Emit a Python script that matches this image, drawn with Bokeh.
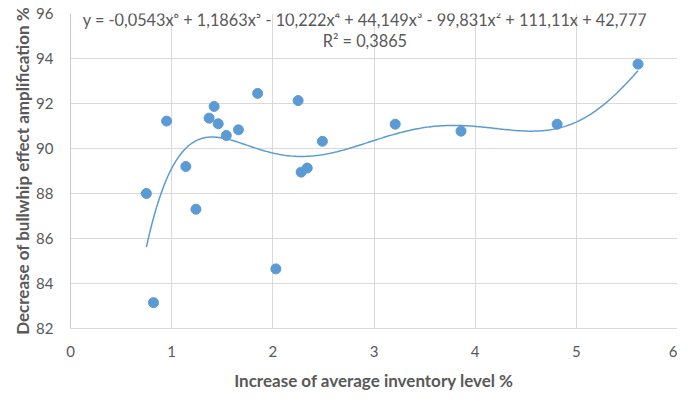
import numpy as np
from bokeh.plotting import figure
from bokeh.models import FixedTicker, Label, ColumnDataSource
from bokeh.embed import file_html
from bokeh.resources import INLINE

# Data
inventory_increase = [0.75, 0.82, 0.95, 1.14, 1.24, 1.37, 1.42, 1.46, 1.54, 1.66,
                      1.85, 2.03, 2.25, 2.28, 2.34, 2.49, 3.21, 3.86, 4.81, 5.61]
bullwhip_decrease = [88.0, 83.15, 91.22, 89.2, 87.3, 91.35, 91.87, 91.1, 90.58, 90.83,
                     92.45, 84.65, 92.13, 88.95, 89.13, 90.32, 91.08, 90.77, 91.08, 93.75]

# Trendline coefficients shown on the chart (6th order polynomial, highest power first)
trend_coefs = [-0.0543, 1.1863, -10.222, 44.149, -99.831, 111.11, 42.777]
equation_text = "y = -0,0543x\u2076 + 1,1863x\u2075 - 10,222x\u2074 + 44,149x\u00b3 - 99,831x\u00b2 + 111,11x + 42,777"
r2_text = "R\u00b2 = 0,3865"

x_ticks = [0, 1, 2, 3, 4, 5, 6]
y_ticks = [82, 84, 86, 88, 90, 92, 94, 96]
x_title = "Increase of average inventory level %"
y_title = "Decrease of bullwhip effect amplification %"

BLUE = "#5B9BD5"
GRID = "#D9D9D9"
TXT = "#595959"
FONT = "Lato"

p = figure(width=677, height=393, x_range=(0, 6), y_range=(82, 96),
           output_backend="svg", toolbar_location=None,
           min_border_left=70, min_border_right=0, min_border_top=13, min_border_bottom=61)
p.outline_line_color = None
p.background_fill_color = "white"

# trendline
tx = np.linspace(min(inventory_increase), max(inventory_increase), 300)
ty = np.polyval(trend_coefs, tx)
p.line(tx, ty, line_color=BLUE, line_width=1.5)

src = ColumnDataSource(dict(x=inventory_increase, y=bullwhip_decrease))
p.scatter("x", "y", source=src, size=10, fill_color=BLUE, line_color=BLUE)

# axes
p.xaxis.ticker = FixedTicker(ticks=x_ticks)
p.yaxis.ticker = FixedTicker(ticks=y_ticks)
for ax in (p.xaxis[0], p.yaxis[0]):
    ax.major_tick_line_color = None
    ax.minor_tick_line_color = None
    ax.major_tick_out = 0
    ax.major_tick_in = 0
    ax.major_label_text_font = FONT
    ax.major_label_text_font_size = "15px"
    ax.major_label_text_color = TXT
    ax.axis_label_text_font = FONT
    ax.axis_label_text_font_style = "bold"
    ax.axis_label_text_color = TXT
    ax.axis_label_text_font_size = "17px"
p.xaxis.axis_label = x_title
p.yaxis.axis_label = y_title
p.xaxis.axis_line_color = GRID
p.yaxis.axis_line_color = "#C5CCD8"
p.xaxis.major_label_standoff = 17
p.yaxis.major_label_standoff = 17
p.xaxis.axis_label_standoff = 10
p.yaxis.axis_label_standoff = 0

p.xgrid.grid_line_color = GRID
p.ygrid.grid_line_color = GRID

p.add_layout(Label(x=2.91, y=95.74, text=equation_text, text_align="center",
                   text_baseline="middle", text_font=FONT, text_font_size="16.3px",
                   text_color=TXT))
p.add_layout(Label(x=2.91, y=94.82, text=r2_text, text_align="center",
                   text_baseline="middle", text_font=FONT, text_font_size="16.3px",
                   text_color=TXT))

open("out.html", "w").write(file_html(p, INLINE))
